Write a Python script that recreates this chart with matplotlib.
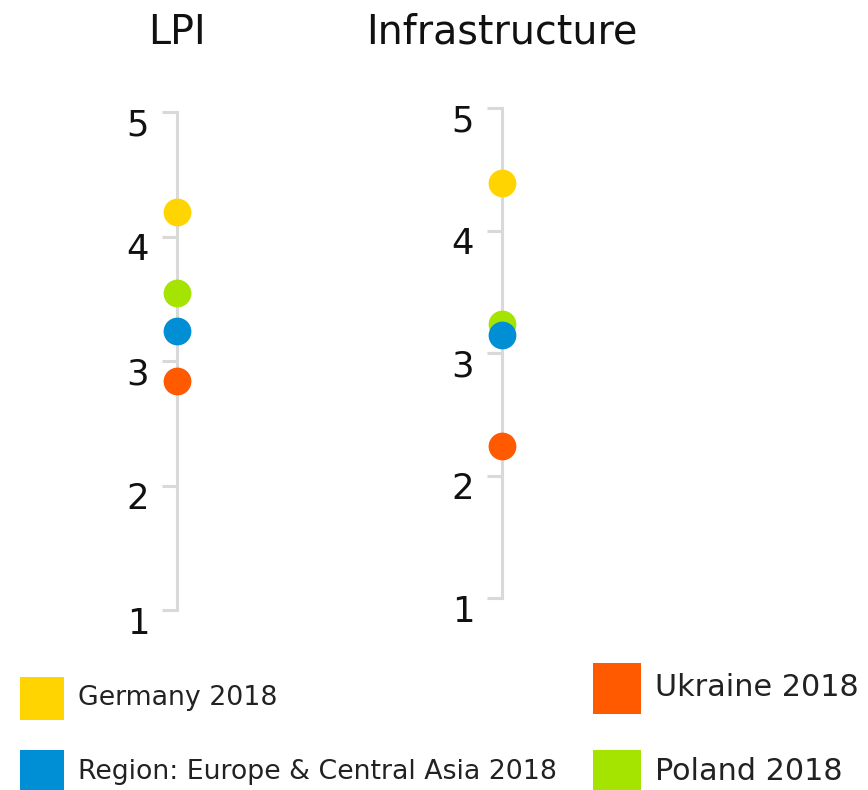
import matplotlib
matplotlib.use('Agg')
from matplotlib import pyplot
from matplotlib.patches import Rectangle
from matplotlib.transforms import ScaledTranslation

# scores per indicator
indicators = ['LPI', 'Infrastructure']
series = ['Germany 2018', 'Poland 2018', 'Region: Europe & Central Asia 2018', 'Ukraine 2018']
colors = ['#FFD400', '#A4E400', '#008FD5', '#FF5A00']
lpi = [4.20, 3.55, 3.24, 2.84]
infrastructure = [4.39, 3.24, 3.15, 2.24]
values = [lpi, infrastructure]
ticks = [1, 2, 3, 4, 5]

grey = '#d9d9d9'
W, H = 868, 790

fig = pyplot.figure(figsize=(W / 100, H / 100), dpi=100)

# axis boxes in pixels: spine x, top (5) y, bottom (1) y
boxes = [(177, 112, 610), (502, 108, 598)]

for name, vals, (sx, ytop, ybot) in zip(indicators, values, boxes):
    ax = fig.add_axes([sx / W, (H - ybot) / H, 0.05, (ybot - ytop) / H])
    ax.set_xlim(0, 1)
    ax.set_ylim(1, 5)
    for s in ['top', 'right', 'bottom']:
        ax.spines[s].set_visible(False)
    ax.spines['left'].set_color(grey)
    ax.spines['left'].set_linewidth(2.2)
    ax.set_xticks([])
    ax.set_yticks(ticks)
    ax.set_yticklabels([str(t) for t in ticks])
    ax.tick_params(axis='y', length=11, width=2.2, color=grey, pad=9,
                   labelsize=25.5, labelcolor='#111111')
    offset = ScaledTranslation(0, -10 / 100, fig.dpi_scale_trans)
    for lab in ax.get_yticklabels():
        lab.set_transform(lab.get_transform() + offset)
    for v, c in zip(vals, colors):
        ax.scatter([0], [v], s=400, color=c, zorder=3, clip_on=False, linewidths=0)
    ax.patch.set_visible(False)
    fig.text(sx / W, 1 - 33 / H, name, ha='center', va='center', fontsize=28.5, color='#111111')

# legend
legend_items = [
    ('Germany 2018', colors[0], 20, 677, 44, 43, 78, 698, 19.3),
    ('Region: Europe & Central Asia 2018', colors[2], 20, 750, 44, 40, 78, 772, 19.3),
    ('Ukraine 2018', colors[3], 593, 663, 48, 51, 655, 688, 21.8),
    ('Poland 2018', colors[1], 593, 750, 48, 40, 655, 772, 21.8),
]
for label, c, x, y, w, h, tx, ty, fs in legend_items:
    fig.add_artist(Rectangle((x / W, 1 - (y + h) / H), w / W, h / H,
                             transform=fig.transFigure, color=c, lw=0))
    fig.text(tx / W, 1 - ty / H, label, ha='left', va='center', fontsize=fs, color='#222222')

fig.savefig('out.png', dpi=100)
